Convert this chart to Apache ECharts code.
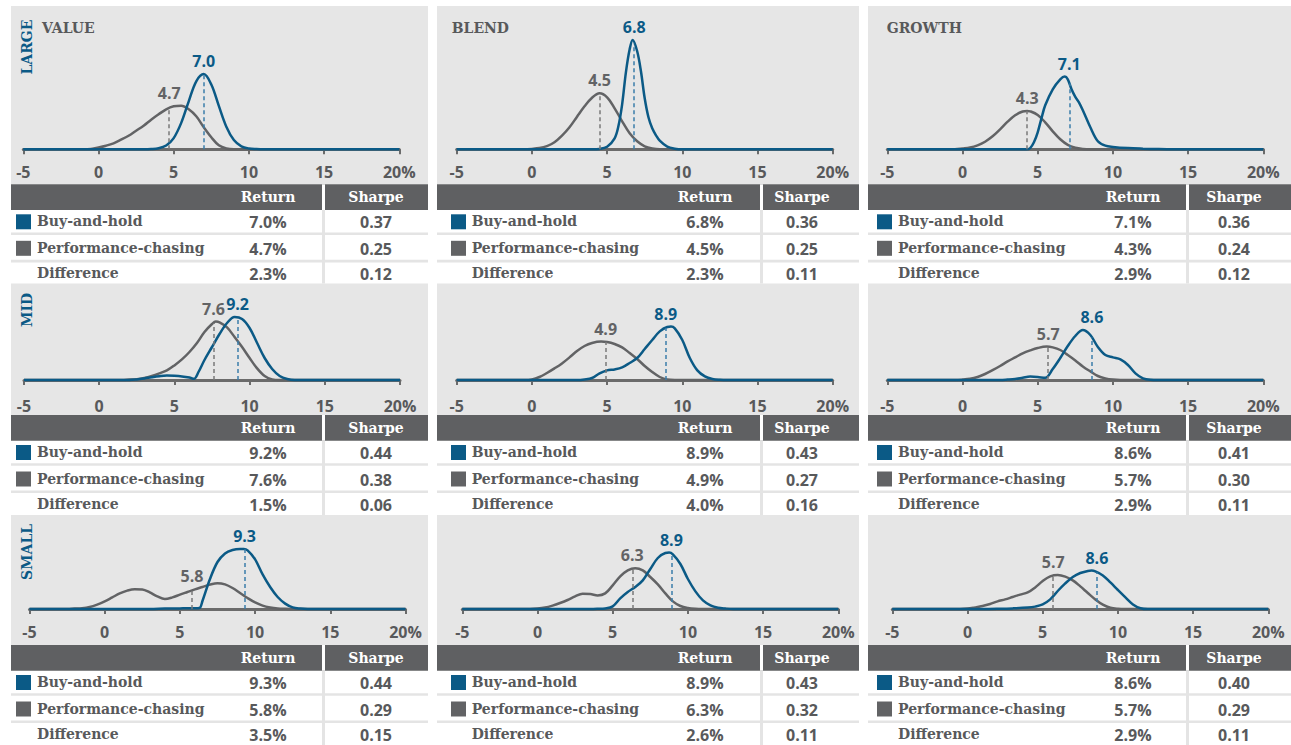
<!DOCTYPE html>
<html>
<head>
<meta charset="utf-8">
<script src="https://cdn.jsdelivr.net/npm/echarts/dist/echarts.min.js"></script>
<style>
  html, body { margin: 0; padding: 0; background: #ffffff; }
  #chart { width: 1291px; height: 745px; }
</style>
</head>
<body>
<div id="chart"></div>
<script>
// ---- Labels ----
const tickLabels = ['-5', '0', '5', '10', '15', '20%'];
const sizeLabels = ['LARGE', 'MID', 'SMALL'];
const styleLabels = ['VALUE', 'BLEND', 'GROWTH'];
const rowLabels = ['Buy-and-hold', 'Performance-chasing', 'Difference'];
const tableHeads = ['Return', 'Sharpe'];

// ---- Table values [size][style] ----
const returnBuyHold = [[7.0, 6.8, 7.1], [9.2, 8.9, 8.6], [9.3, 8.9, 8.6]];
const returnChasing = [[4.7, 4.5, 4.3], [7.6, 4.9, 5.7], [5.8, 6.3, 5.7]];
const returnDiff    = [[2.3, 2.3, 2.9], [1.5, 4.0, 2.9], [3.5, 2.6, 2.9]];
const sharpeBuyHold = [[0.37, 0.36, 0.36], [0.44, 0.43, 0.41], [0.44, 0.43, 0.40]];
const sharpeChasing = [[0.25, 0.25, 0.24], [0.38, 0.27, 0.30], [0.29, 0.32, 0.29]];
const sharpeDiff    = [[0.12, 0.11, 0.12], [0.06, 0.16, 0.11], [0.15, 0.11, 0.11]];

// ---- Return distributions: [annual return %, density] ----
const largeValueBuy = [[-5,0],[3,0],[3.5,.001],[4,.005],[4.5,.019],[5,.056],[5.5,.132],[6,.240],[6.5,.340],[7,.376],[7.5,.324],[8,.217],[8.5,.113],[9,.046],[9.5,.015],[10,.004],[10.5,.001],[11,0],[20,0]];
const largeValueChase = [[-5,0],[-1,0],[-0.5,.002],[0,.009],[0.5,.018],[1,.030],[1.5,.048],[2,.068],[2.5,.093],[3,.118],[3.5,.148],[4,.175],[4.5,.200],[5,.215],[5.5,.218],[6,.200],[6.5,.165],[7,.110],[7.5,.060],[8,.020],[8.5,.004],[9,0],[20,0]];
const largeBlendBuy = [[-5,0],[4,0],[4.5,.002],[5,.013],[5.5,.055],[5.75,.115],[6,.225],[6.25,.385],[6.5,.500],[6.7,.547],[7,.490],[7.25,.390],[7.5,.255],[7.75,.160],[8,.105],[8.25,.070],[8.5,.043],[9,.013],[9.5,.003],[10,0],[20,0]];
const largeBlendChase = [[-5,0],[-0.5,0],[0,.002],[0.5,.006],[1,.016],[1.5,.035],[2,.068],[2.5,.110],[3,.163],[3.5,.215],[4,.258],[4.5,.280],[5,.260],[5.5,.205],[6,.140],[6.5,.080],[7,.040],[7.5,.015],[8,.004],[8.5,0],[20,0]];
const largeGrowthBuy = [[-5,0],[4.25,0],[4.5,.006],[4.75,.035],[5,.085],[5.25,.155],[5.5,.220],[6,.300],[6.5,.350],[6.8,.364],[7,.350],[7.25,.300],[7.5,.262],[7.75,.233],[8,.195],[8.5,.110],[9,.040],[9.5,.018],[10,.012],[11,.006],[12,.003],[13,.001],[14,0],[20,0]];
const largeGrowthChase = [[-5,0],[-0.5,0],[0,.004],[0.5,.009],[1,.020],[1.5,.038],[2,.065],[2.5,.100],[3,.138],[3.5,.170],[4,.189],[4.3,.192],[4.5,.190],[5,.172],[5.5,.135],[6,.090],[6.5,.050],[7,.022],[7.5,.008],[8,.002],[8.5,0],[20,0]];

const midValueBuy = [[-5,0],[2,0],[2.5,.003],[3,.008],[3.5,.014],[4,.019],[4.5,.022],[5,.021],[5.5,.018],[6,.012],[6.3,.006],[6.6,.040],[7,.100],[7.5,.165],[8,.230],[8.5,.285],[9,.315],[9.5,.305],[10,.260],[10.5,.185],[11,.110],[11.5,.055],[12,.020],[12.5,.005],[13,0],[20,0]];
const midValueChase = [[-5,0],[1.5,0],[2,.002],[2.5,.004],[3,.010],[3.5,.020],[4,.033],[4.5,.048],[5,.073],[5.5,.103],[6,.140],[6.5,.185],[7,.240],[7.5,.280],[7.75,.292],[8,.288],[8.5,.263],[9,.215],[9.5,.165],[10,.110],[10.5,.058],[11,.020],[11.5,.003],[12,0],[20,0]];
const midBlendBuy = [[-5,0],[3,0],[3.5,.003],[4,.010],[4.5,.033],[5,.048],[5.5,.053],[6,.063],[6.5,.085],[7,.110],[7.5,.155],[8,.200],[8.5,.243],[9,.265],[9.25,.267],[9.5,.258],[10,.200],[10.5,.110],[11,.048],[11.5,.018],[12,.005],[12.5,.001],[13,0],[20,0]];
const midBlendChase = [[-5,0],[-0.5,0],[0,.003],[0.5,.015],[1,.035],[1.5,.058],[2,.083],[2.5,.113],[3,.145],[3.5,.170],[4,.185],[4.6,.192],[5,.190],[5.5,.180],[6,.163],[6.5,.135],[7,.105],[7.5,.070],[8,.040],[8.5,.015],[9,.002],[9.5,0],[20,0]];
const midGrowthBuy = [[-5,0],[2.5,0],[3,.002],[3.5,.005],[4,.011],[4.5,.017],[5,.015],[5.5,.011],[6,.055],[6.5,.110],[7,.170],[7.5,.220],[8,.250],[8.5,.225],[9,.165],[9.5,.125],[10,.113],[10.5,.103],[11,.075],[11.5,.033],[12,.008],[12.5,.001],[13,0],[20,0]];
const midGrowthChase = [[-5,0],[-0.5,0],[0,.002],[0.5,.006],[1,.015],[1.5,.030],[2,.049],[2.5,.070],[3,.093],[3.5,.113],[4,.133],[4.5,.148],[5,.160],[5.6,.167],[6,.163],[6.5,.150],[7,.125],[7.5,.098],[8,.068],[8.5,.043],[9,.020],[9.5,.008],[10,.002],[10.5,0],[20,0]];

const smallValueBuy = [[-5,0],[3,0],[4,.002],[5,.003],[5.5,.004],[6,.004],[6.3,.005],[6.5,.040],[7,.150],[7.5,.235],[8,.278],[8.5,.295],[9,.300],[9.25,.300],[9.5,.293],[10,.248],[10.5,.173],[11,.110],[11.5,.060],[12,.027],[12.5,.008],[13,.002],[13.5,0],[20,0]];
const smallValueChase = [[-5,0],[-2.5,0],[-2,.002],[-1.5,.004],[-1,.010],[-0.5,.022],[0,.038],[0.5,.058],[1,.078],[1.5,.092],[2,.099],[2.5,.098],[3,.083],[3.5,.063],[4,.050],[4.5,.058],[5,.072],[5.5,.085],[6,.098],[6.5,.110],[7,.122],[7.5,.129],[8,.123],[8.5,.105],[9,.080],[9.5,.055],[10,.033],[10.5,.017],[11,.008],[11.5,.003],[12,.001],[12.5,0],[20,0]];
const smallBlendBuy = [[-5,0],[3.5,0],[4,.001],[4.5,.003],[5,.013],[5.5,.053],[6,.085],[6.5,.110],[7,.143],[7.5,.200],[8,.255],[8.5,.280],[8.75,.282],[9,.273],[9.5,.225],[10,.150],[10.5,.088],[11,.043],[11.5,.018],[12,.006],[12.5,.002],[13,0],[20,0]];
const smallBlendChase = [[-5,0],[-0.5,0],[0,.002],[0.5,.007],[1,.017],[1.5,.030],[2,.045],[2.5,.063],[3,.076],[3.5,.075],[4,.068],[4.5,.078],[5,.118],[5.5,.163],[6,.193],[6.5,.204],[7,.193],[7.5,.160],[8,.123],[8.5,.078],[9,.038],[9.5,.015],[10,.005],[10.5,.001],[11,0],[20,0]];
const smallGrowthBuy = [[-5,0],[1,0],[2,.001],[3,.003],[4,.007],[4.5,.012],[5,.023],[5.5,.048],[6,.090],[6.5,.128],[7,.160],[7.5,.180],[8,.190],[8.25,.192],[8.5,.188],[9,.168],[9.5,.133],[10,.095],[10.5,.058],[11,.023],[11.5,.004],[12,0],[20,0]];
const smallGrowthChase = [[-5,0],[-0.5,0],[0,.002],[0.5,.008],[1,.015],[1.5,.025],[2,.038],[2.5,.048],[3,.060],[3.5,.072],[4,.083],[4.5,.108],[5,.140],[5.5,.163],[6,.170],[6.5,.162],[7,.143],[7.5,.113],[8,.080],[8.5,.048],[9,.022],[9.5,.006],[10,.001],[10.5,0],[20,0]];

// panels indexed [size][style]: [buy-and-hold curve, performance-chasing curve]
const curves = [
  [[largeValueBuy, largeValueChase], [largeBlendBuy, largeBlendChase], [largeGrowthBuy, largeGrowthChase]],
  [[midValueBuy, midValueChase], [midBlendBuy, midBlendChase], [midGrowthBuy, midGrowthChase]],
  [[smallValueBuy, smallValueChase], [smallBlendBuy, smallBlendChase], [smallGrowthBuy, smallGrowthChase]]
];

// ---- Layout ----
const BLUE = '#0b5a86';
const BLUE_DASH = '#3b7eab';
const GREY = '#626365';
const GREY_DASH = '#7a7a7a';
const TEXT = '#58595b';
const PANEL_BG = '#e6e6e6';
const HEAD_BG = '#5f6062';
const SERIF = '"DejaVu Serif", "Liberation Serif", serif';
const SANS = '"Open Sans", "Noto Sans", sans-serif';

const panelX = [11, 437, 868];
const panelW = [417, 422, 423];
const rowTop = [6, 283.5, 515];
const headTop = [184.3, 415, 645];
const rowEnd = [283.5, 515, 745];
const baseY = [149.3, 380, 609];
const yMax = [0.65, 0.4, 0.4];
const axisOffset = [4, 6.5, 4.3];
const plotLeft = [[23.3, 456.7, 887.3], [24, 456.7, 887.3], [29.5, 462.3, 892.3]];
const plotW = 376;
const pxPerUnit = 200;
const squareX = [16, 451, 877];
const labelX = [37, 471.7, 898];
const returnX = [268, 705, 1133];
const sepX = [322, 760, 1186];
const sharpeX = [376, 802, 1234];

function valueAt(data, x) {
  for (let i = 0; i < data.length - 1; i++) {
    const a = data[i], b = data[i + 1];
    if (x >= a[0] && x <= b[0]) {
      const t = (x - a[0]) / (b[0] - a[0]);
      return a[1] + t * (b[1] - a[1]);
    }
  }
  return 0;
}
// highest point of the curve close to x, used to lift the value label clear of the line
function localTop(data, x) {
  let top = valueAt(data, x);
  data.forEach(p => { if (Math.abs(p[0] - x) <= 0.6 && p[1] > top) top = p[1]; });
  return top;
}

const grids = [], xAxes = [], yAxes = [], series = [], graphics = [];

for (let r = 0; r < 3; r++) {
  for (let c = 0; c < 3; c++) {
    const idx = r * 3 + c;
    const h = yMax[r] * pxPerUnit;
    grids.push({ left: plotLeft[r][c], width: plotW, top: baseY[r] - h, height: h, containLabel: false });
    xAxes.push({
      gridIndex: idx, type: 'value', min: -5, max: 20, interval: 5, position: 'bottom',
      offset: axisOffset[r],
      axisLine: { show: true, lineStyle: { color: '#6b6b6b', width: 3 } },
      axisTick: { show: true, length: 5, lineStyle: { color: '#6b6b6b', width: 2 } },
      axisLabel: {
        margin: 11, color: TEXT, fontFamily: SANS, fontWeight: 'bold', fontSize: 16,
        showMinLabel: true, showMaxLabel: true,
        formatter: v => tickLabels[Math.round((v + 5) / 5)]
      },
      splitLine: { show: false }
    });
    yAxes.push({ gridIndex: idx, type: 'value', min: 0, max: yMax[r], show: false });

    const means = [returnBuyHold[r][c], returnChasing[r][c]];
    const colors = [BLUE, GREY];
    const dashColors = [BLUE_DASH, GREY_DASH];
    // performance-chasing first so buy-and-hold sits on top
    [1, 0].forEach(k => {
      const data = curves[r][c][k];
      const m = means[k];
      const atMean = valueAt(data, m);
      series.push({
        type: 'line', xAxisIndex: idx, yAxisIndex: idx, data: data,
        smooth: 0.35, showSymbol: false, clip: false, silent: true,
        lineStyle: { color: colors[k], width: 2.5 },
        z: k === 0 ? 4 : 3,
        markLine: {
          silent: true, symbol: ['none', 'none'], label: { show: false },
          lineStyle: { color: dashColors[k], width: 1.5, type: [4, 3] },
          data: [[{ coord: [m, 0] }, { coord: [m, atMean] }]]
        },
        markPoint: {
          silent: true, symbol: 'circle', symbolSize: 1,
          itemStyle: { color: 'rgba(0,0,0,0)' },
          label: {
            show: true, position: 'inside', offset: [0, -13],
            formatter: m.toFixed(1), color: colors[k],
            fontFamily: SANS, fontWeight: 'bold', fontSize: 16
          },
          data: [{ coord: [m, localTop(data, m)] }]
        }
      });
    });

    // panel background behind the plot
    graphics.push({ type: 'rect', z: -10, silent: true,
      shape: { x: panelX[c], y: rowTop[r], width: panelW[c], height: headTop[r] - rowTop[r] },
      style: { fill: PANEL_BG } });

    // table header
    const ht = headTop[r];
    graphics.push({ type: 'rect', z: -5, silent: true,
      shape: { x: panelX[c], y: ht, width: panelW[c], height: 25.7 }, style: { fill: HEAD_BG } });
    graphics.push({ type: 'rect', z: -4, silent: true,
      shape: { x: sepX[c], y: ht, width: 3, height: 25.7 }, style: { fill: '#ffffff' } });
    graphics.push({ type: 'rect', z: -4, silent: true,
      shape: { x: sepX[c], y: ht + 25.7, width: 3, height: rowEnd[r] - ht - 25.7 }, style: { fill: '#e4e4e4' } });
    [48.2, 75.5].forEach(dy => {
      graphics.push({ type: 'rect', z: -4, silent: true,
        shape: { x: panelX[c], y: ht + dy, width: panelW[c], height: 2.6 }, style: { fill: '#e4e4e4' } });
    });
    [returnX[c], sharpeX[c]].forEach((x, i) => {
      graphics.push({ type: 'text', z: 5, silent: true, x: x, y: ht + 13,
        style: { text: tableHeads[i], fill: '#ffffff', fontFamily: SERIF, fontWeight: 'bold', fontSize: 14,
                 align: 'center', verticalAlign: 'middle' } });
    });

    // table rows
    const rets = [returnBuyHold[r][c], returnChasing[r][c], returnDiff[r][c]];
    const shps = [sharpeBuyHold[r][c], sharpeChasing[r][c], sharpeDiff[r][c]];
    const rowY = [37, 63.5, 88.8];
    for (let k = 0; k < 3; k++) {
      const y = ht + rowY[k];
      if (k < 2) {
        graphics.push({ type: 'rect', z: 5, silent: true,
          shape: { x: squareX[c], y: y - 7, width: 15, height: 15 }, style: { fill: colors[k] } });
      }
      graphics.push({ type: 'text', z: 5, silent: true, x: labelX[c], y: y,
        style: { text: rowLabels[k], fill: TEXT, fontFamily: SERIF, fontWeight: 'bold', fontSize: 14,
                 align: 'left', verticalAlign: 'middle' } });
      graphics.push({ type: 'text', z: 5, silent: true, x: returnX[c], y: y + 1,
        style: { text: rets[k].toFixed(1) + '%', fill: TEXT, fontFamily: SANS, fontWeight: 'bold', fontSize: 16,
                 align: 'center', verticalAlign: 'middle' } });
      graphics.push({ type: 'text', z: 5, silent: true, x: sharpeX[c], y: y + 1,
        style: { text: shps[k].toFixed(2), fill: TEXT, fontFamily: SANS, fontWeight: 'bold', fontSize: 16,
                 align: 'center', verticalAlign: 'middle' } });
    }
  }
}

// style headings across the top row
const styleX = [42, 451.7, 886.7];
styleLabels.forEach((s, c) => {
  graphics.push({ type: 'text', z: 5, silent: true, x: styleX[c], y: 28,
    style: { text: s, fill: TEXT, fontFamily: SERIF, fontWeight: 'bold', fontSize: 14,
             align: 'left', verticalAlign: 'middle' } });
});
// size headings, rotated, in the first column
const sizeY = [47, 310, 552];
sizeLabels.forEach((s, r) => {
  graphics.push({ type: 'text', z: 5, silent: true, x: 26.5, y: sizeY[r], rotation: Math.PI / 2,
    style: { text: s, fill: BLUE, fontFamily: SERIF, fontWeight: 'bold', fontSize: 14,
             align: 'center', verticalAlign: 'middle' } });
});

const chart = echarts.init(document.getElementById('chart'), null, { renderer: 'svg' });
chart.setOption({
  animation: false,
  backgroundColor: '#ffffff',
  grid: grids,
  xAxis: xAxes,
  yAxis: yAxes,
  series: series,
  graphic: { elements: graphics }
});
</script>
</body>
</html>
